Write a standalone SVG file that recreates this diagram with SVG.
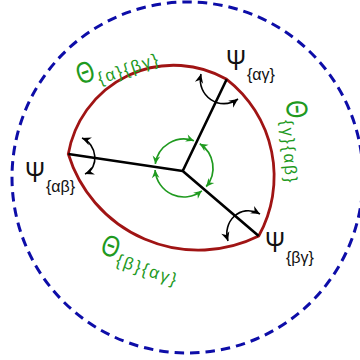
<svg xmlns="http://www.w3.org/2000/svg" width="360" height="360" viewBox="0 0 360 360">
<defs>
<marker id="ak" markerUnits="userSpaceOnUse" markerWidth="14" markerHeight="14" viewBox="-11 -7 14 14" refX="0" refY="0" orient="auto-start-reverse">
<path d="M0,0 L-9,-4.2 L-6.2,0 L-9,4.2 Z" fill="#000"/>
</marker>
<marker id="ag" markerUnits="userSpaceOnUse" markerWidth="12" markerHeight="12" viewBox="-9 -6 12 12" refX="0" refY="0" orient="auto-start-reverse">
<path d="M0,0 L-8,-3.8 L-5.5,0 L-8,3.8 Z" fill="#1f9a1f"/>
</marker>
</defs>
<style>
.outer{fill:none;stroke:#0d0da8;stroke-width:3;stroke-dasharray:9.5 6}
.bnd{fill:none;stroke:#a01414;stroke-width:2.8;stroke-linejoin:miter}
.edge{fill:none;stroke:#000;stroke-width:2.6}
.rot{fill:none;stroke:#000;stroke-width:1.6;marker-start:url(#ak);marker-end:url(#ak)}
.grot{fill:none;stroke:#1f9a1f;stroke-width:1.7;marker-start:url(#ag);marker-end:url(#ag)}
.psi{font-family:"Liberation Sans",Arial,sans-serif;fill:#111}
.th{font-family:"Liberation Sans",Arial,sans-serif;fill:#1f9a1f}
.big{font-size:30px}
.sub{font-size:16px}
.thsub{font-size:17px;letter-spacing:2px}
</style>
<g id="outer-boundary">
<circle class="outer" cx="187.5" cy="177.5" r="175.5"/>
</g>
<g id="grain">
<path class="bnd" d="M68.3,154 A107,107 0 0 1 226.7,79.3 A123,123 0 0 1 258.7,236 A136,136 0 0 1 68.3,154 Z"/>
</g>
<g id="connectors">
<path class="edge" d="M182.7,171 L226.7,79.3 M182.7,171 L68.3,154 M182.7,171 L258.7,236"/>
<path class="rot" d="M201,74 C196,96 220,112 238,99"/>
<path class="rot" d="M82,138 C97,144 100,168 85,174"/>
<path class="rot" d="M260,214 C240,203 222,222 228,241"/>
<path class="grot" d="M155.28,163.96 A29,29 0 0 1 193.92,140.75"/>
<path class="grot" d="M199.79,143.68 A29,29 0 0 1 206.21,186.64"/>
<path class="grot" d="M201.85,190.85 A29,29 0 0 1 155.07,170.02"/>
</g>
<g id="psi-ag">
<text class="psi big" x="226" y="70" textLength="20" lengthAdjust="spacingAndGlyphs">Ψ</text>
<text class="psi sub" x="247" y="80">{αγ}</text>
</g>
<g id="psi-ab">
<text class="psi big" x="25" y="182" textLength="20" lengthAdjust="spacingAndGlyphs">Ψ</text>
<text class="psi sub" x="46" y="192">{αβ}</text>
</g>
<g id="psi-bg">
<text class="psi big" x="265" y="252" textLength="20" lengthAdjust="spacingAndGlyphs">Ψ</text>
<text class="psi sub" x="286" y="263">{βγ}</text>
</g>
<g id="theta-a" transform="translate(80,85) rotate(-19)">
<text class="th big" x="0" y="0" textLength="18" lengthAdjust="spacingAndGlyphs">Θ</text>
<text class="th thsub" x="19" y="6">{α}{βγ}</text>
</g>
<g id="theta-g" transform="translate(286,101) rotate(86)">
<text class="th big" x="0" y="0" textLength="18" lengthAdjust="spacingAndGlyphs">Θ</text>
<text class="th thsub" x="19" y="6">{γ}{αβ}</text>
</g>
<g id="theta-b" transform="translate(99,253) rotate(19)">
<text class="th big" x="0" y="0" textLength="18" lengthAdjust="spacingAndGlyphs">Θ</text>
<text class="th thsub" x="19" y="6">{β}{αγ}</text>
</g>
</svg>
